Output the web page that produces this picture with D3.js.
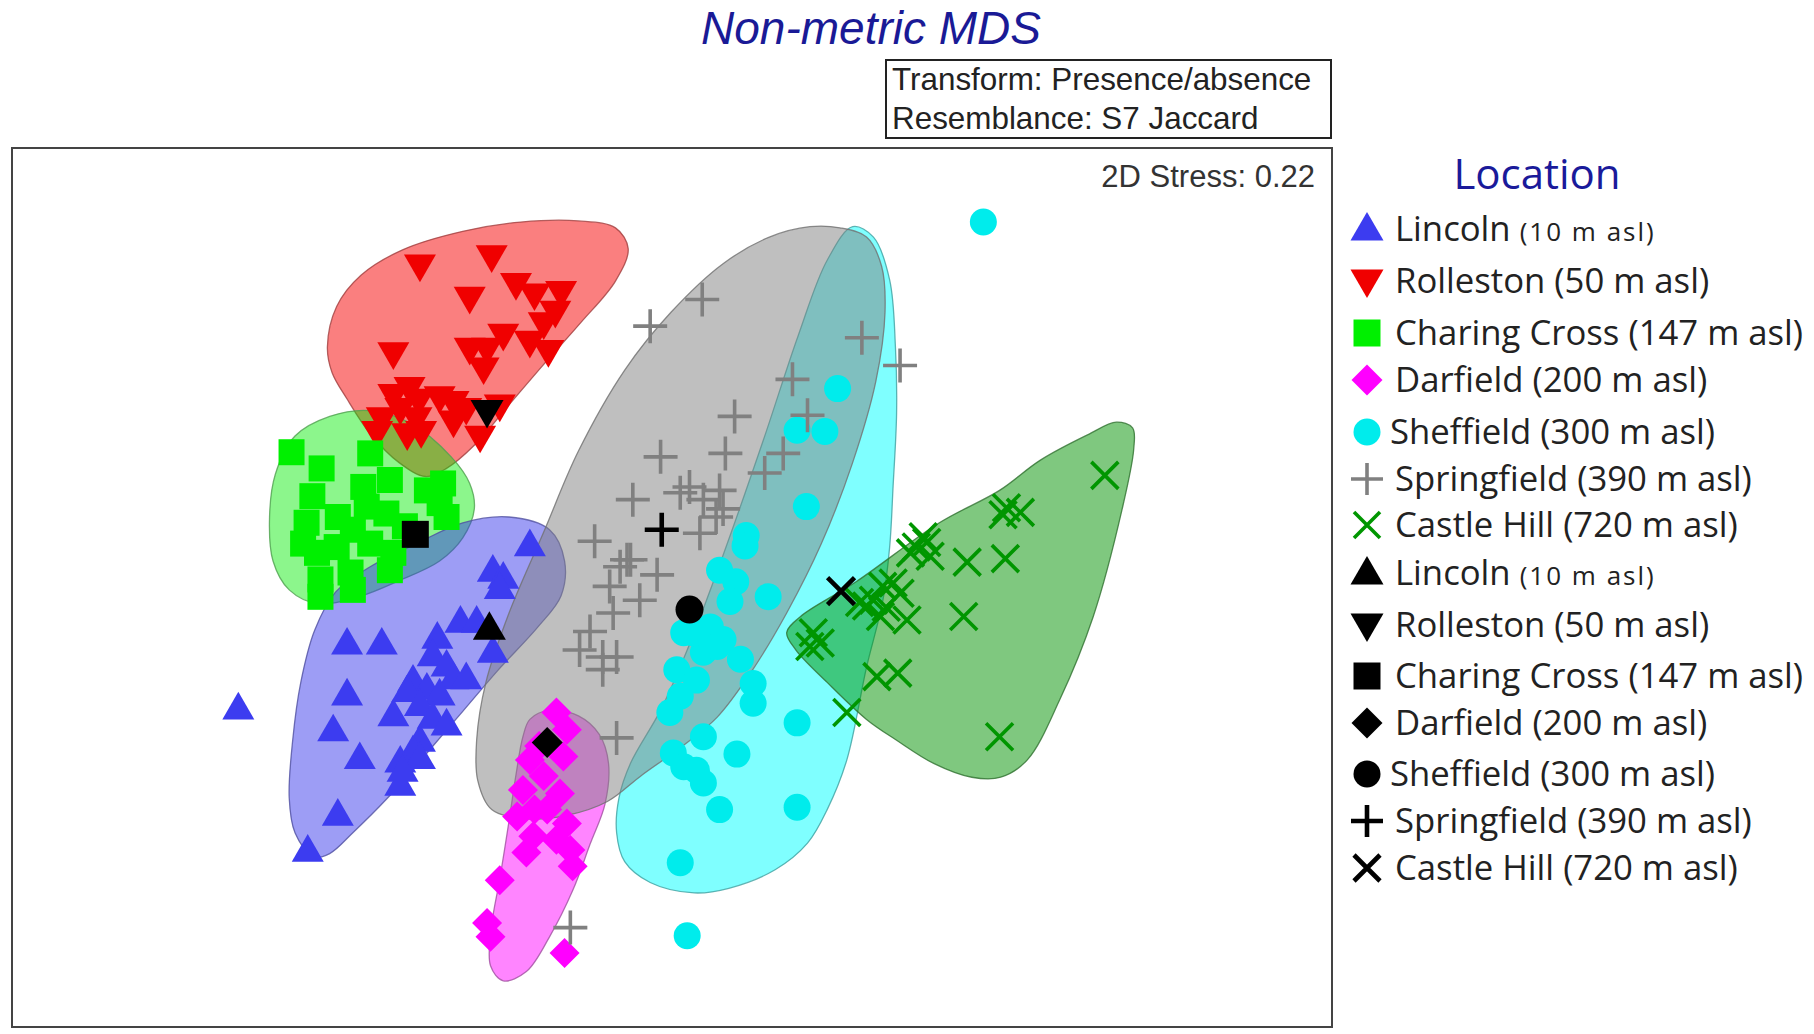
<!DOCTYPE html>
<html><head><meta charset="utf-8">
<script src="https://cdn.jsdelivr.net/npm/d3@7"></script>
<style>body{margin:0;background:#fff}svg{display:block}</style></head>
<body>
<svg id="c" width="1814" height="1034"></svg>
<script>
// ---- DATA (MDS ordination coordinates, plot units) ----
const categories = ["Lincoln","Rolleston","Charing Cross","Darfield","Sheffield","Springfield","Castle Hill"];
const elevations = ["(10 m asl)","(50 m asl)","(147 m asl)","(200 m asl)","(300 m asl)","(390 m asl)","(720 m asl)"];
const stressLabel = "2D Stress: 0.22";
const transformLabel = "Transform: Presence/absence";
const resemblanceLabel = "Resemblance: S7 Jaccard";

const lincoln = [[458,473],[426,495],[435,501],[432,510],[398,539],[412,539],[426,565],[300,558],[330,558],[378,553],[374,568],[386,577],[392,588],[403,588],[357,590],[369,597],[352,599],[380,602],[363,611],[300,602],[340,620],[374,622],[386,628],[288,633],[363,642],[357,651],[311,657],[346,660],[363,657],[346,680],[348,668],[292,706],[266,737],[206,614]];
const rolleston = [[363,228],[425,220],[406,256],[446,244],[462,253],[485,251],[480,268],[470,278],[340,304],[406,300],[421,300],[418,317],[435,288],[458,294],[474,302],[354,334],[362,344],[346,352],[330,360],[360,360],[326,372],[352,374],[364,372],[380,342],[392,346],[403,352],[392,363],[415,376],[432,349],[340,340]];
const charingCross = [[252,391],[278,405],[320,392],[270,429],[265,452],[292,447],[314,421],[337,415],[369,424],[380,435],[334,444],[305,458],[340,478],[274,478],[277,501],[277,516],[305,510],[303,495],[291,473],[317,438],[383,418],[386,447],[337,493],[262,470],[350,455],[320,470]];
const darfield = [[481,616],[490,631],[458,657],[487,654],[470,671],[452,683],[484,686],[447,706],[473,700],[490,712],[461,723],[481,726],[455,737],[495,749],[493,735],[432,761],[421,798],[424,810],[488,824],[466,645],[462,700]];
const sheffield = [[850,192],[724,336],[689,372],[713,373],[697,438],[645,463],[622,493],[636,503],[664,516],[614,542],[591,547],[625,553],[608,564],[640,570],[585,579],[602,588],[651,591],[588,602],[651,608],[579,616],[689,625],[608,637],[582,651],[637,652],[602,666],[608,677],[622,700],[689,698],[588,746],[594,809],[591,663],[620,559],[599,547],[644,472],[631,520]];
const springfield = [[607,259],[562,282],[745,292],[778,316],[685,328],[635,360],[698,359],[571,395],[627,392],[677,392],[661,409],[547,432],[588,426],[596,421],[622,424],[625,440],[619,447],[605,461],[514,468],[542,484],[536,490],[545,484],[568,497],[527,507],[553,519],[530,530],[510,546],[501,562],[521,568],[533,568],[521,579],[533,638],[493,802],[608,432]];
const castleHill = [[955,411],[870,439],[882,443],[867,445],[869,483],[836,486],[801,469],[792,473],[804,481],[787,478],[798,464],[833,533],[763,507],[772,504],[755,519],[766,525],[778,513],[784,536],[761,533],[749,524],[743,521],[703,547],[709,556],[700,559],[758,585],[776,582],[732,616],[864,637]];
// group centroids (black symbols)
const centroids = [[423,545],[421,354],[359,462],[473,642],[596,527],[572,458],[727,511]];

// group outline regions
const regionLincoln = [[271,741],[255,720],[250,690],[253,640],[260,590],[272,545],[290,512],[320,490],[360,470],[400,452],[440,447],[475,458],[488,485],[485,515],[465,542],[430,580],[400,615],[370,650],[335,690],[305,720],[285,738]];
const regionRolleston = [[283,300],[291,265],[312,238],[348,216],[400,200],[450,192],[500,191],[532,197],[543,215],[532,243],[502,279],[470,315],[440,350],[410,385],[386,405],[368,412],[345,400],[320,375],[300,345],[287,322]];
const regionCharing = [[233,447],[238,410],[255,377],[285,360],[320,355],[355,366],[390,395],[406,418],[410,440],[400,465],[380,485],[345,502],[310,516],[275,522],[250,510],[236,485]];
const regionDarfield = [[452,637],[458,622],[475,614],[500,619],[518,635],[526,660],[523,695],[510,730],[495,770],[475,810],[455,840],[435,848],[424,835],[425,800],[432,760],[440,710],[446,670]];
const regionSheffield = [[737,196],[755,205],[769,242],[774,300],[775,357],[772,420],[769,473],[763,520],[749,577],[732,657],[715,700],[698,729],[670,752],[630,768],[600,772],[562,763],[540,745],[533,720],[535,690],[545,660],[571,614],[594,562],[625,480],[660,380],[690,290],[715,225]];
const regionSpringfield = [[726,197],[749,205],[762,230],[765,270],[757,330],[737,400],[710,470],[680,530],[650,580],[620,620],[590,645],[555,670],[525,693],[490,705],[455,708],[425,700],[413,675],[412,640],[420,590],[440,530],[470,460],[500,390],[540,320],[580,270],[625,228],[665,205],[700,196]];
const regionCastle = [[680,547],[692,533],[740,503],[812,452],[864,424],[899,398],[940,376],[965,365],[979,370],[980,388],[970,440],[945,533],[916,605],[888,657],[865,672],[840,672],[807,660],[775,640],[749,622],[715,590],[688,562]];

// ---- RENDER ----
const svg = d3.select("#c");
const x = d3.scaleLinear().domain([0,1568]).range([0,1814]);
const y = d3.scaleLinear().domain([0,894]).range([0,1034]);

const groups = [
  {pts: lincoln, region: regionLincoln, shape:"triUp", color:"#3c3cf0", fill:"rgba(50,50,235,0.48)", edge:"#5050a0"},
  {pts: rolleston, region: regionRolleston, shape:"triDown", color:"#f00000", fill:"rgba(245,0,0,0.5)", edge:"#a04040"},
  {pts: charingCross, region: regionCharing, shape:"square", color:"#00f000", fill:"rgba(0,235,0,0.45)", edge:"#50a050"},
  {pts: darfield, region: regionDarfield, shape:"diamond", color:"#ff00ff", fill:"rgba(255,0,255,0.48)", edge:"#a050a0"},
  {pts: sheffield, region: regionSheffield, shape:"circle", color:"#00ecec", fill:"rgba(0,255,255,0.5)", edge:"#40a0a0"},
  {pts: springfield, region: regionSpringfield, shape:"plus", color:"#808080", fill:"rgba(128,128,128,0.5)", edge:"#707070"},
  {pts: castleHill, region: regionCastle, shape:"cross", color:"#009600", fill:"rgba(0,145,0,0.5)", edge:"#307030"}
];

function symPath(shape, s){
  switch(shape){
    case "triUp": return d3.symbol(d3.symbolTriangle, Math.sqrt(3)/4*s*s)();
    case "triDown": return d3.symbol(d3.symbolTriangle, Math.sqrt(3)/4*s*s)();
    case "square": return d3.symbol(d3.symbolSquare, s*s)();
    case "diamond": return d3.symbol(d3.symbolSquare, s*s/2)();
    case "circle": return d3.symbol(d3.symbolCircle, Math.PI*s*s/4)();
    case "plus": { const h=s/2; return `M${-h},0H${h}M0,${-h}V${h}`; }
    case "cross": { const h=s/2; return `M${-h},${-h}L${h},${h}M${-h},${h}L${h},${-h}`; }
  }
}
const rot = {triUp:0, triDown:180, square:0, diamond:45, circle:0, plus:0, cross:0};
const sizes = {triUp:32, triDown:32, square:26, diamond:30, circle:27, plus:34, cross:27};
const lineShapes = new Set(["plus","cross"]);

function drawSym(g, shape, color, cx, cy, s, sw){
  const p = g.append("path").attr("d", symPath(shape, s))
    .attr("transform", `translate(${cx},${cy}) rotate(${rot[shape]})`);
  if(lineShapes.has(shape)) p.attr("fill","none").attr("stroke",color).attr("stroke-width",sw);
  else p.attr("fill",color);
}

// regions
const order = [1,2,0,3,4,5,6];
const line = d3.line().x(d=>x(d[0])).y(d=>y(d[1])).curve(d3.curveCatmullRomClosed.alpha(0.5));
const gReg = svg.append("g");
order.forEach(i=>{
  const gr = groups[i];
  gReg.append("path").attr("d", line(gr.region)).attr("fill", gr.fill)
    .attr("stroke", gr.edge).attr("stroke-width",1.3).attr("stroke-opacity",0.8);
});

// points
const gPts = svg.append("g");
order.forEach(i=>{
  const gr = groups[i];
  gr.pts.forEach(d=> drawSym(gPts, gr.shape, gr.color, x(d[0]), y(d[1]), sizes[gr.shape], 3.6));
});
// centroids
centroids.forEach((d,i)=>{
  const sh = groups[i].shape;
  drawSym(gPts, sh, "#000", x(d[0]), y(d[1]), sizes[sh]+ (lineShapes.has(sh)?0:1), 4.6);
});

// frame
svg.append("rect").attr("x",12).attr("y",148).attr("width",1320).attr("height",879)
  .attr("fill","none").attr("stroke","#444").attr("stroke-width",2);

// title
svg.append("text").attr("x",871).attr("y",44).attr("text-anchor","middle")
  .attr("font-family","Liberation Sans, Arial, sans-serif").attr("font-style","italic")
  .attr("font-size",46).attr("fill","#1a1a96").text("Non-metric MDS");

// info box
svg.append("rect").attr("x",886).attr("y",60).attr("width",445).attr("height",78)
  .attr("fill","#fff").attr("stroke","#222").attr("stroke-width",2);
svg.append("text").attr("x",892).attr("y",90).attr("font-family","Liberation Sans, Arial, sans-serif")
  .attr("font-size",31.4).attr("fill","#222").text(transformLabel);
svg.append("text").attr("x",892).attr("y",129).attr("font-family","Liberation Sans, Arial, sans-serif")
  .attr("font-size",31.4).attr("fill","#222").text(resemblanceLabel);

// stress
svg.append("text").attr("x",1315).attr("y",187).attr("text-anchor","end")
  .attr("font-family","Liberation Sans, Arial, sans-serif").attr("font-size",31)
  .attr("fill","#333").text(stressLabel);

// legend
const lg = svg.append("g");
lg.append("text").attr("x",1537).attr("y",189).attr("text-anchor","middle")
  .attr("font-family","Open Sans, sans-serif").attr("font-size",42).attr("fill","#1a1a9a").text("Location");
const lsizes = {triUp:33, triDown:33, square:27, diamond:31, circle:27, plus:32, cross:26};
const rowY = [229,281,333,380,432,479,525,573,625,676,723,774,821,868];
for(let k=0;k<14;k++){
  const i = k%7, gr = groups[i];
  const cy = rowY[k];
  const col = k<7 ? gr.color : "#000";
  drawSym(lg, gr.shape, col, 1367, cy + (gr.shape==="triUp"? 2 : gr.shape==="triDown"? -2:0), lsizes[gr.shape], k<7?3.6:4.6);
  const t = lg.append("text").attr("x", gr.shape==="circle"?1390:1395).attr("y", cy+12)
    .attr("font-family","Open Sans, sans-serif").attr("font-size",34.7).attr("fill","#222");
  t.append("tspan").text(categories[i]+" ");
  if(i===0) t.append("tspan").attr("font-size",26).attr("letter-spacing",2).text(elevations[i]);
  else t.append("tspan").text(elevations[i]);
}
</script>
</body></html>
